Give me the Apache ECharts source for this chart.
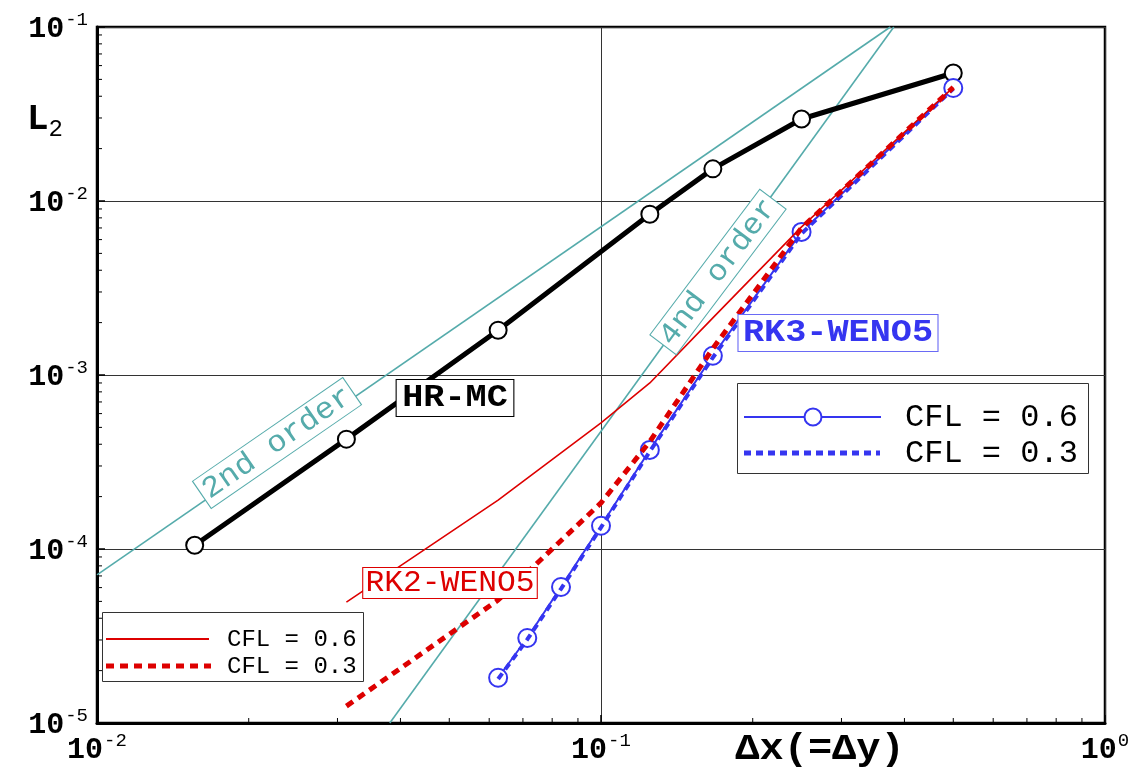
<!DOCTYPE html>
<html>
<head>
<meta charset="utf-8">
<script src="https://cdn.jsdelivr.net/npm/echarts@6/dist/echarts.min.js"></script>
<style>html,body{margin:0;padding:0;background:#fff;}#main{width:1139px;height:770px;}</style>
</head>
<body>
<div id="main"></div>
<script>
// ---- data ----
const xHR = [0.015625, 0.03125, 0.0625, 0.125, 0.1667, 0.25, 0.5];
const yHR = [1.05e-4, 4.28e-4, 1.81e-3, 8.4e-3, 1.53e-2, 2.96e-2, 5.44e-2];

const xRK3 = [0.0625, 0.0714, 0.0833, 0.1, 0.125, 0.1667, 0.25, 0.5];
const yRK3_06 = [1.82e-5, 3.08e-5, 6.05e-5, 1.36e-4, 3.71e-4, 1.29e-3, 6.64e-3, 4.46e-2];
const yRK3_03 = [1.79e-5, 3.02e-5, 5.9e-5, 1.33e-4, 3.64e-4, 1.26e-3, 6.5e-3, 4.42e-2];

const xRK2 = [0.03125, 0.0625, 0.1, 0.125, 0.1667, 0.25, 0.5];
const yRK2_06 = [4.95e-5, 1.91e-4, 5.3e-4, 9.0e-4, 2.13e-3, 7.1e-3, 4.5e-2];
const yRK2_03 = [1.25e-5, 5.09e-5, 1.84e-4, 4.15e-4, 1.42e-3, 7.0e-3, 4.5e-2];

const x2nd = [0.01, 0.375];
const y2nd = [7.1e-5, 0.1];
const x4th = [0.0381, 0.381];
const y4th = [1e-5, 0.1];

const minorX = [0.02,0.03,0.04,0.05,0.06,0.07,0.08,0.09,0.2,0.3,0.4,0.5,0.6,0.7,0.8,0.9];
const minorY = [2e-5,3e-5,4e-5,5e-5,6e-5,7e-5,8e-5,9e-5,2e-4,3e-4,4e-4,5e-4,6e-4,7e-4,8e-4,9e-4,
                2e-3,3e-3,4e-3,5e-3,6e-3,7e-3,8e-3,9e-3,2e-2,3e-2,4e-2,5e-2,6e-2,7e-2,8e-2,9e-2];

const legendLabels = ['CFL = 0.6', 'CFL = 0.3'];

// ---- styles ----
const FONT = '"Liberation Mono", "DejaVu Sans Mono", monospace';
const TEAL = '#55abab';
const RED = '#dd0000';
const BLUE = '#3535f0';
const RED_DASH = [8, 6];
const BLUE_DASH = [7, 5];

function zip(xs, ys) { return xs.map((x, i) => [x, ys[i]]); }

const tickRich = {
  b: { fontSize: 30, fontWeight: 'bold', fontFamily: FONT, color: '#000', lineHeight: 34, verticalAlign: 'bottom' },
  s: { fontSize: 19, fontWeight: 'normal', fontFamily: FONT, color: '#000', lineHeight: 34, verticalAlign: 'top', padding: [0, 0, 0, 1] }
};
function tickFmt(v) { return '{b|10}{s|' + Math.round(Math.log10(v)) + '}'; }

function legendBox(x, y, w, h, rows) {
  const children = [{ type: 'rect', shape: { x: x, y: y, width: w, height: h },
    style: { fill: '#fff', stroke: '#333', lineWidth: 1 } }];
  rows.forEach(r => {
    children.push({ type: 'line', shape: { x1: r.x1, y1: r.y, x2: r.x2, y2: r.y },
      style: { stroke: r.color, lineWidth: r.width, lineDash: r.dash || null, lineCap: 'butt' } });
    if (r.circle) {
      children.push({ type: 'circle', shape: { cx: r.circle, cy: r.y, r: 8.5 },
        style: { fill: '#fff', stroke: r.color, lineWidth: 2 } });
    }
    children.push({ type: 'text', x: r.tx, y: r.y + 1,
      style: { text: r.text, font: r.font, fill: '#000', align: 'left', verticalAlign: 'middle' } });
  });
  return { type: 'group', z: 100, children: children };
}

const chart = echarts.init(document.getElementById('main'));

const option = {
  animation: false,
  backgroundColor: '#fff',
  grid: { left: 97, right: 34, top: 27, bottom: 47, show: true, borderColor: '#000', borderWidth: 2.5, backgroundColor: 'transparent' },
  xAxis: {
    type: 'log', logBase: 10, min: 0.01, max: 1,
    axisLine: { show: true, lineStyle: { color: '#000', width: 3 } },
    axisTick: { show: true, inside: true, length: 8, lineStyle: { color: '#000', width: 1.5 } },
    splitLine: { show: true, lineStyle: { color: '#333', width: 1 } },
    axisLabel: { formatter: tickFmt, rich: tickRich, margin: 8 }
  },
  yAxis: {
    type: 'log', logBase: 10, min: 1e-5, max: 0.1,
    axisLine: { show: true, lineStyle: { color: '#000', width: 3 } },
    axisTick: { show: true, inside: true, length: 8, lineStyle: { color: '#000', width: 1.5 } },
    splitLine: { show: true, lineStyle: { color: '#333', width: 1 } },
    axisLabel: { formatter: tickFmt, rich: tickRich, margin: 9 }
  },
  series: [
    { name: '2nd', type: 'line', data: zip(x2nd, y2nd), symbol: 'none', silent: true,
      lineStyle: { color: TEAL, width: 1.6 }, z: 2 },
    { name: '4th', type: 'line', data: zip(x4th, y4th), symbol: 'none', silent: true,
      lineStyle: { color: TEAL, width: 1.6 }, z: 2 },
    { name: 'HR-MC', type: 'line', data: zip(xHR, yHR), symbol: 'circle', symbolSize: 17,
      lineStyle: { color: '#000', width: 5 }, itemStyle: { color: '#fff', borderColor: '#000', borderWidth: 2 }, z: 3 },
    { name: 'RK3 CFL = 0.6', type: 'line', data: zip(xRK3, yRK3_06), symbol: 'circle', symbolSize: 18,
      lineStyle: { color: BLUE, width: 2 }, itemStyle: { color: '#fff', borderColor: BLUE, borderWidth: 2 }, z: 4 },
    { name: 'RK3 CFL = 0.3', type: 'line', data: zip(xRK3, yRK3_03), symbol: 'none',
      lineStyle: { color: BLUE, width: 4, type: BLUE_DASH }, z: 5 },
    { name: 'RK2 CFL = 0.6', type: 'line', data: zip(xRK2, yRK2_06), symbol: 'none',
      lineStyle: { color: RED, width: 1.6 }, z: 6 },
    { name: 'RK2 CFL = 0.3', type: 'line', data: zip(xRK2, yRK2_03), symbol: 'none',
      lineStyle: { color: RED, width: 5, type: RED_DASH }, z: 7 },
    { name: 'minorX', type: 'custom', silent: true, data: minorX.map(v => [v, 1e-5]), z: 10,
      renderItem: (params, api) => {
        const p = api.coord([api.value(0), api.value(1)]);
        return { type: 'line', shape: { x1: p[0], y1: p[1], x2: p[0], y2: p[1] - 5 }, style: { stroke: '#000', lineWidth: 1 } };
      } },
    { name: 'minorY', type: 'custom', silent: true, data: minorY.map(v => [0.01, v]), z: 10,
      renderItem: (params, api) => {
        const p = api.coord([api.value(0), api.value(1)]);
        return { type: 'line', shape: { x1: p[0], y1: p[1], x2: p[0] + 5, y2: p[1] }, style: { stroke: '#000', lineWidth: 1 } };
      } }
  ],
  graphic: [
    { type: 'text', x: 820, y: 750, z: 100, scaleX: 1.12,
      style: { text: 'Δx(=Δy)', font: 'bold 36px ' + FONT, fill: '#000', align: 'center', verticalAlign: 'middle' } },
    { type: 'text', x: 27, y: 122, z: 100,
      style: { text: '{L|L}{s|2}', align: 'left', verticalAlign: 'middle',
        rich: { L: { fontFamily: FONT, fontWeight: 'bold', fontSize: 36, fill: '#000', lineHeight: 40, verticalAlign: 'top' },
                s: { fontFamily: FONT, fontSize: 24, fill: '#000', lineHeight: 40, verticalAlign: 'bottom' } } } },
    { type: 'text', x: 455, y: 398, z: 100, scaleX: 1.1,
      style: { text: 'HR-MC', font: 'bold 32px ' + FONT, fill: '#000', align: 'center', verticalAlign: 'middle',
        backgroundColor: '#fff', borderColor: '#000', borderWidth: 1, padding: [3, 5, 1, 5] } },
    { type: 'text', x: 838, y: 333, z: 100, scaleX: 1.1,
      style: { text: 'RK3-WENO5', font: 'bold 32px ' + FONT, fill: BLUE, align: 'center', verticalAlign: 'middle',
        backgroundColor: '#fff', borderColor: '#6a6af5', borderWidth: 1, padding: [3, 4, 1, 4] } },
    { type: 'text', x: 450, y: 583, z: 100, scaleX: 1.08,
      style: { text: 'RK2-WENO5', font: '29px ' + FONT, fill: RED, align: 'center', verticalAlign: 'middle',
        backgroundColor: '#fff', borderColor: RED, borderWidth: 1, padding: [1, 2, 0, 2] } },
    { type: 'text', x: 277, y: 443, z: 100, rotation: 34.6 * Math.PI / 180, scaleX: 1.08,
      style: { text: '2nd order', font: '30px ' + FONT, fill: TEAL, align: 'center', verticalAlign: 'middle',
        backgroundColor: '#fff', borderColor: TEAL, borderWidth: 1, padding: [2, 3, 0, 3] } },
    { type: 'text', x: 718, y: 272, z: 100, rotation: 53 * Math.PI / 180, scaleX: 1.08,
      style: { text: '4nd order', font: '30px ' + FONT, fill: TEAL, align: 'center', verticalAlign: 'middle',
        backgroundColor: '#fff', borderColor: TEAL, borderWidth: 1, padding: [2, 3, 0, 3] } },
    legendBox(102.5, 612.5, 261, 69, [
      { x1: 106, x2: 209, y: 639, color: RED, width: 2, tx: 227, text: legendLabels[0], font: '24px ' + FONT },
      { x1: 106, x2: 211, y: 666, color: RED, width: 5, dash: RED_DASH, tx: 227, text: legendLabels[1], font: '24px ' + FONT }
    ]),
    legendBox(737.5, 383.5, 351, 90, [
      { x1: 744, x2: 881, y: 417, color: BLUE, width: 2, circle: 813, tx: 905, text: legendLabels[0], font: '32px ' + FONT },
      { x1: 744, x2: 880, y: 453, color: BLUE, width: 5, dash: BLUE_DASH, tx: 905, text: legendLabels[1], font: '32px ' + FONT }
    ])
  ]
};
chart.setOption(option);
</script>
</body>
</html>
